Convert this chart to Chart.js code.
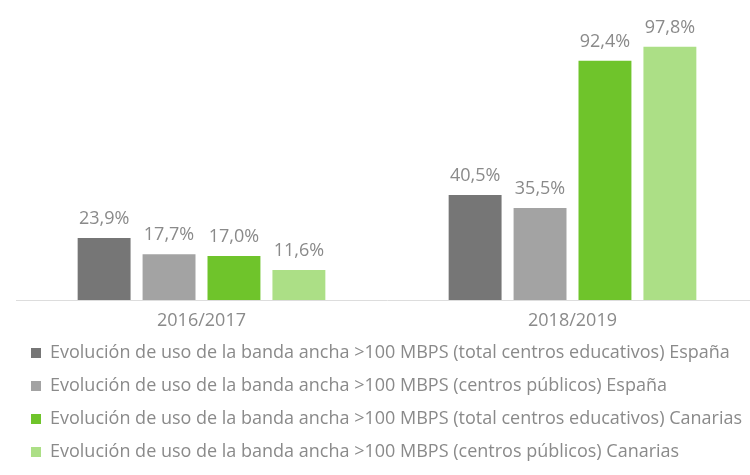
<!DOCTYPE html>
<html>
<head>
<meta charset="utf-8">
<script src="https://cdn.jsdelivr.net/npm/chart.js@4.4.1/dist/chart.umd.min.js"></script>
<style>
  html, body { margin: 0; padding: 0; background: #fff; overflow: hidden; }
  #wrap { position: relative; width: 758px; height: 475px; }
</style>
</head>
<body>
<div id="wrap"><canvas id="bandaChart"></canvas></div>
<script>
// curso escolar
const cursos = ['2016/2017', '2018/2019'];

// % de uso de banda ancha >100 MBPS
const totalEspana = [23.9, 40.5];
const publicosEspana = [17.7, 35.5];
const totalCanarias = [17.0, 92.4];
const publicosCanarias = [11.6, 97.8];

const series = [
    'Evolución de uso de la banda ancha >100 MBPS (total centros educativos) España',
    'Evolución de uso de la banda ancha >100 MBPS (centros públicos) España',
    'Evolución de uso de la banda ancha >100 MBPS (total centros educativos) Canarias',
    'Evolución de uso de la banda ancha >100 MBPS (centros públicos) Canarias'
];

const colores = ['#767676', '#a3a3a3', '#6fc42b', '#acdf86'];
const textColor = '#8a8a8a';

// etiquetas encima de cada barra (sin plugin externo)
const valueLabels = {
    id: 'valueLabels',
    afterDatasetsDraw(chart) {
        const ctx = chart.ctx;
        ctx.save();
        ctx.font = '18px "Open Sans"';
        ctx.fillStyle = textColor;
        ctx.textAlign = 'center';
        ctx.textBaseline = 'alphabetic';
        chart.data.datasets.forEach((ds, i) => {
            chart.getDatasetMeta(i).data.forEach((bar, j) => {
                const txt = ds.data[j].toFixed(1).replace('.', ',') + '%';
                ctx.fillText(txt, bar.x, bar.y - 14);
            });
        });
        ctx.restore();
    }
};

const ctx = document.getElementById('bandaChart').getContext('2d');
new Chart(ctx, {
    type: 'bar',
    data: {
        labels: cursos,
        datasets: [
            { label: series[0], data: totalEspana, backgroundColor: colores[0] },
            { label: series[1], data: publicosEspana, backgroundColor: colores[1] },
            { label: series[2], data: totalCanarias, backgroundColor: colores[2] },
            { label: series[3], data: publicosCanarias, backgroundColor: colores[3] }
        ]
    },
    options: {
        responsive: true,
        maintainAspectRatio: false,
        animation: false,
        layout: {
            padding: { top: 41, left: 16, right: 0, bottom: 4 }
        },
        datasets: {
            bar: {
                borderWidth: 0,
                categoryPercentage: 0.7,
                barPercentage: 0.815
            }
        },
        plugins: {
            legend: {
                position: 'bottom',
                align: 'start',
                labels: {
                    color: textColor,
                    font: { family: 'Open Sans', size: 18 },
                    boxWidth: 10,
                    boxHeight: 10,
                    padding: 15
                }
            },
            tooltip: { enabled: false }
        },
        scales: {
            x: {
                grid: { display: false, drawTicks: false },
                border: { display: true, color: '#dddddd', width: 1 },
                ticks: {
                    color: textColor,
                    font: { family: 'Open Sans', size: 18 },
                    padding: 10
                },
                // labels sit close to the legend, so keep the axis short
                afterFit: (axis) => { axis.height = 29; }
            },
            y: {
                display: false,
                min: 0,
                max: 100
            }
        }
    },
    plugins: [valueLabels]
});
</script>
</body>
</html>
